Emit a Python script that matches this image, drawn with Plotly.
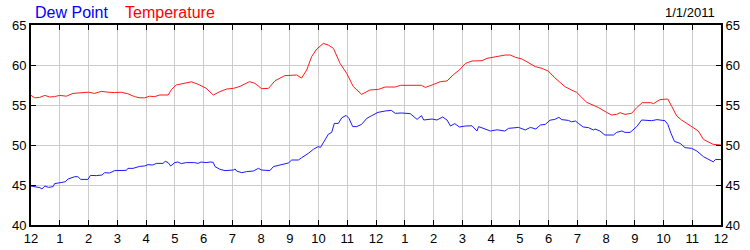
import plotly.graph_objects as go

# ---- data (hours since midnight, degrees F) ----
temp_hours = [0, 0.13, 0.3, 0.48, 0.65, 0.82, 1.0, 1.23, 1.46, 1.75, 2.0, 2.21, 2.45, 2.68, 2.91, 3.14, 3.37,
              3.6, 3.78, 3.95, 4.13, 4.3, 4.48, 4.77, 4.88, 5.05, 5.29, 5.58, 5.81, 6.09, 6.34, 6.57, 6.81,
              7.04, 7.27, 7.6, 7.79, 8.02, 8.26, 8.49, 8.83, 9.0, 9.24, 9.41, 9.59, 9.76, 9.94, 10.17, 10.34,
              10.52, 10.75, 10.98, 11.21, 11.5, 11.79, 12.09, 12.32, 12.67, 12.85, 13.58, 13.72, 13.95, 14.24,
              14.47, 14.7, 14.9, 15.11, 15.34, 15.69, 15.86, 16.09, 16.27, 16.5, 16.67, 16.85, 17.08, 17.31,
              17.54, 17.77, 17.99, 18.22, 18.57, 18.8, 18.98, 19.33, 19.56, 19.73, 20.02, 20.2, 20.37, 20.49,
              20.66, 20.89, 21.07, 21.26, 21.56, 21.65, 21.88, 22.15, 22.29, 22.46, 22.63, 22.98, 23.21, 23.39,
              23.56, 23.73, 24]
temp_values = [56.2, 55.9, 55.95, 56.2, 56.0, 56.05, 56.2, 56.1, 56.45, 56.5, 56.6, 56.45, 56.7, 56.6, 56.55,
               56.6, 56.4, 56.05, 55.9, 55.9, 56.1, 56.05, 56.25, 56.25, 56.9, 57.5, 57.65, 57.9, 57.6, 57.1,
               56.25, 56.67, 57.0, 57.08, 57.33, 57.92, 57.7, 57.04, 57.08, 58.04, 58.67, 58.67, 58.75, 58.37,
               59.37, 61.04, 62.0, 62.7, 62.5, 62.08, 60.2, 58.96, 57.3, 56.33, 56.875, 56.96, 57.25, 57.25,
               57.46, 57.46, 57.2, 57.5, 57.92, 58.0, 58.83, 59.375, 60.2, 60.5, 60.54, 60.83, 61.0, 61.17,
               61.25, 61.25, 60.96, 60.75, 60.3, 59.8, 59.58, 59.25, 58.4, 57.3, 56.875, 56.58, 55.33, 55.0,
               54.7, 54.08, 53.75, 53.83, 54.04, 53.83, 53.96, 54.67, 55.29, 55.29, 55.17, 55.67, 55.75, 54.8,
               53.625, 53.125, 52.3, 51.75, 50.7, 50.42, 50.08, 50.0]

dew_hours = [0, 0.31, 0.38, 0.48, 0.61, 0.77, 0.82, 1.06, 1.19, 1.29, 1.52, 1.63, 1.73, 1.98, 2.07, 2.27, 2.47,
             2.56, 2.74, 2.91, 3.14, 3.32, 3.37, 3.55, 3.78, 3.95, 4.07, 4.24, 4.36, 4.59, 4.67, 4.77, 4.86,
             5.0, 5.11, 5.23, 5.4, 5.69, 5.81, 5.92, 6.09, 6.23, 6.34, 6.4, 6.57, 6.75, 7.04, 7.1, 7.15, 7.33,
             7.5, 7.73, 7.91, 8.02, 8.31, 8.43, 8.66, 8.95, 9.07, 9.3, 9.41, 9.53, 9.65, 9.82, 9.99, 10.07,
             10.19, 10.34, 10.46, 10.55, 10.69, 10.81, 10.96, 11.06, 11.19, 11.33, 11.5, 11.68, 11.85, 12.07,
             12.32, 12.53, 12.67, 12.9, 13.19, 13.43, 13.58, 13.66, 13.95, 14.12, 14.32, 14.47, 14.59, 14.74,
             14.9, 15.11, 15.34, 15.51, 15.57, 15.8, 15.98, 16.21, 16.48, 16.61, 16.96, 17.19, 17.37, 17.56,
             17.72, 17.89, 18.05, 18.22, 18.36, 18.46, 18.69, 18.8, 18.94, 19.04, 19.21, 19.39, 19.56, 19.62,
             19.79, 19.96, 20.26, 20.37, 20.55, 20.66, 20.84, 21.07, 21.24, 21.59, 21.77, 22.05, 22.15, 22.26,
             22.38, 22.58, 22.75, 22.98, 23.16, 23.39, 23.56, 23.73, 23.81, 24]
dew_values = [44.87, 44.67, 44.5, 44.87, 44.7, 44.8, 45.17, 45.33, 45.4, 45.75, 46.04, 46.04, 45.7, 45.7, 46.2,
              46.17, 46.25, 46.54, 46.5, 46.8, 46.8, 46.83, 47.08, 47.08, 47.33, 47.375, 47.54, 47.5, 47.7,
              47.7, 47.96, 47.8, 47.375, 47.8, 47.875, 47.67, 47.8, 47.8, 47.7, 47.875, 47.8, 47.875, 47.83,
              47.3, 46.96, 46.8, 46.875, 47.0, 46.75, 46.54, 46.67, 46.75, 47.08, 46.875, 46.8, 47.3, 47.5,
              47.75, 48.125, 48.125, 48.4, 48.67, 48.96, 49.46, 49.8, 49.7, 50.4, 51.33, 51.58, 52.7, 52.7,
              53.4, 53.7, 53.33, 52.3, 52.3, 52.58, 53.33, 53.67, 54.08, 54.25, 54.33, 53.96, 54.0, 53.92,
              53.2, 53.67, 53.125, 53.25, 53.125, 53.5, 53.125, 52.375, 52.67, 52.25, 52.375, 52.4, 51.75,
              52.3, 52.0, 51.75, 51.9, 51.75, 52.08, 52.2, 51.875, 52.2, 52.0, 52.5, 52.58, 53.1, 53.2, 53.46,
              53.17, 53.08, 52.9, 53.0, 52.7, 52.25, 52.17, 51.875, 52.0, 51.75, 51.25, 51.25, 51.58, 51.75,
              51.58, 51.58, 52.3, 53.125, 53.04, 53.17, 53.04, 52.58, 51.46, 50.46, 50.2, 49.67, 49.58, 49.25,
              48.54, 48.25, 47.9, 48.2, 48.17]

x_tickvals = list(range(0, 25))
x_ticktext = ["12", "1", "2", "3", "4", "5", "6", "7", "8", "9", "10", "11",
              "12", "1", "2", "3", "4", "5", "6", "7", "8", "9", "10", "11", "12"]
y_tickvals = [40, 45, 50, 55, 60, 65]
date_label = "1/1/2011"
series_names = ["Dew Point", "Temperature"]

FONT = "Liberation Sans, Arial, sans-serif"

fig = go.Figure()
fig.add_trace(go.Scatter(x=dew_hours, y=dew_values, mode="lines", name=series_names[0],
                         line=dict(color="#1a1aff", width=1), yaxis="y"))
fig.add_trace(go.Scatter(x=temp_hours, y=temp_values, mode="lines", name=series_names[1],
                         line=dict(color="#ff1a1a", width=1), yaxis="y2"))

axis_common = dict(showline=True, linecolor="black", linewidth=2, ticks="inside", ticklen=5,
                   tickcolor="black", tickwidth=1, showgrid=True, gridcolor="#cccccc", gridwidth=1,
                   zeroline=False, automargin=False,
                   tickfont=dict(family=FONT, size=13, color="black"))

fig.update_layout(
    width=750, height=250,
    margin=dict(l=31, r=29, t=25, b=25),
    paper_bgcolor="white", plot_bgcolor="white",
    showlegend=False,
    xaxis=dict(range=[0, 24], tickvals=x_tickvals, ticktext=x_ticktext, mirror="ticks",
               ticklabelstandoff=0, **axis_common),
    yaxis=dict(range=[40, 65], tickvals=y_tickvals, side="left", mirror=True, **axis_common),
    yaxis2=dict(range=[40, 65], tickvals=y_tickvals, side="right", overlaying="y", **axis_common),
    annotations=[
        dict(text=series_names[0], x=33, y=12, xref="paper", yref="paper", showarrow=False,
             font=dict(family=FONT, size=16, color="blue")),
        dict(text=series_names[1], x=123, y=12, xref="paper", yref="paper", showarrow=False,
             font=dict(family=FONT, size=16, color="red")),
        dict(text=date_label, x=717, y=12, xref="paper", yref="paper", showarrow=False,
             font=dict(family=FONT, size=13, color="black")),
    ],
)

# place annotations in pixel terms relative to the paper (plot area)
pw = 750 - 31 - 29
ph = 250 - 25 - 25
for ann, anchor in zip(fig.layout.annotations, ["left", "left", "right"]):
    px, py = ann.x, ann.y
    ann.x = (px - 31) / pw
    ann.y = (250 - 25 - py) / ph
    ann.xanchor = anchor
    ann.yanchor = "middle"

fig.write_html("out.html")
